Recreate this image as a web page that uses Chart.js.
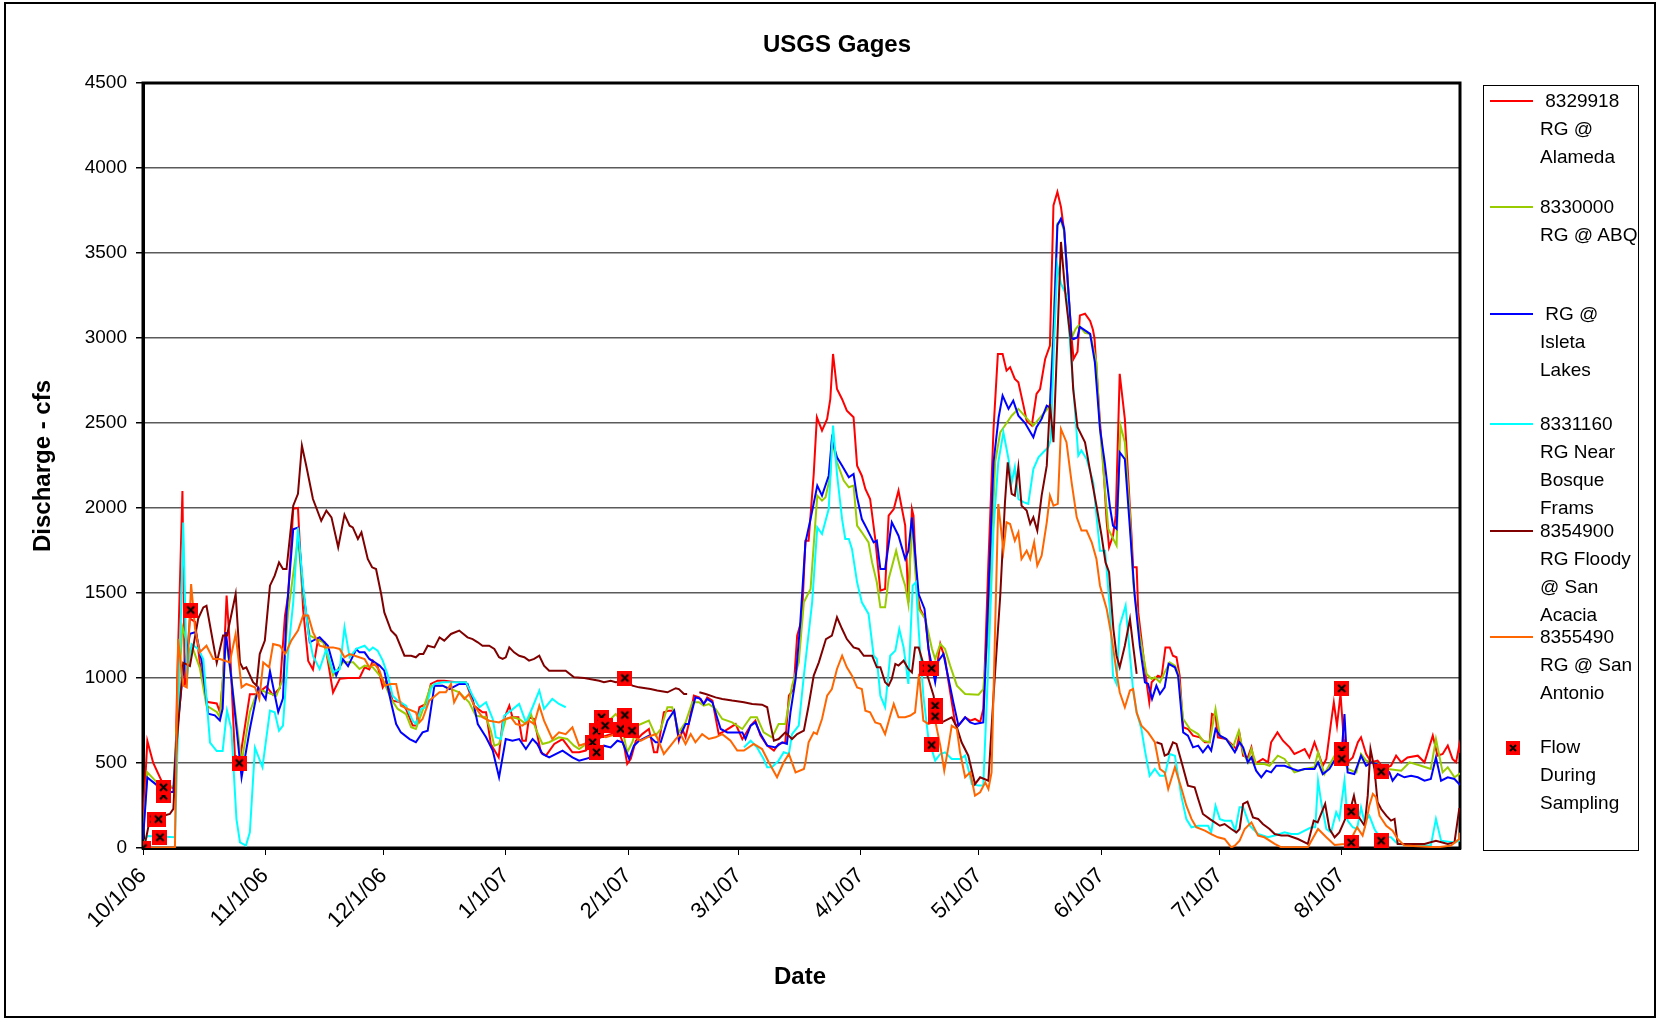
<!DOCTYPE html>
<html>
<head>
<meta charset="utf-8">
<script src="https://cdn.jsdelivr.net/npm/chart.js@4.4.0/dist/chart.umd.min.js"></script>
<style>
  body { margin: 0; background: #fff; }
  #wrap { position: relative; width: 1663px; height: 1019px; font-family: "Liberation Sans", Arial, sans-serif; color: #000; }
  #chart { position: absolute; left: 0; top: 0; }
  #frame { position: absolute; left: 4px; top: 2px; width: 1652px; height: 1016px; border: 2px solid #000; box-sizing: border-box; pointer-events: none; }
  .title { position: absolute; font-weight: bold; font-size: 24px; line-height: 28px; white-space: nowrap; }
  #legendBox { position: absolute; left: 1483px; top: 85px; width: 156px; height: 766px; border: 1px solid #000; box-sizing: border-box; }
  .lgLine { position: absolute; left: 1490px; width: 43px; height: 2px; }
  .lgText { position: absolute; left: 1540px; font-size: 19px; line-height: 28px; white-space: pre; }
</style>
</head>
<body>
<div id="wrap">
  <canvas id="chart" width="1663" height="1019"></canvas>
  <div class="title" style="left:637px;width:400px;text-align:center;top:30px;">USGS Gages</div>
  <div class="title" style="left:700px;width:200px;text-align:center;top:962px;">Date</div>
  <div class="title" style="left:-58px;width:200px;text-align:center;top:452px;transform:rotate(-90deg);">Discharge - cfs</div>
  <div id="legendBox"></div>
  <div id="legendItems"></div>
  <div id="frame"></div>
</div>
<script>
// month ticks (days since 10/1/06)
const monthTickDays = [0, 31, 61, 92, 123, 151, 182, 212, 243, 273, 304];
const monthTickLabels = ['10/1/06', '11/1/06', '12/1/06', '1/1/07', '2/1/07', '3/1/07', '4/1/07', '5/1/07', '6/1/07', '7/1/07', '8/1/07'];

// 8329918 RG @ Alameda
const alamedaDays = [0,1.1,2.6,5.2,8.1,8.7,10.0,10.6,11.9,13.2,14.4,16.1,18.7,19.5,20.3,21.2,22.0,23.3,24.6,27.1,28.8,31.3,33.0,34.7,36.0,36.8,38.1,39.3,40.6,41.9,43.1,44.4,46.1,48.2,49.9,52.0,54.9,
  56.2,57.4,58.3,59.5,60.8,61.7,63.3,65.4,66.7,68.4,69.2,70.1,71.8,73.0,74.7,76.4,79.4,81.9,84.0,86.1,87.0,88.2,90.2,91.2,92.9,93.7,95.2,96.2,97.1,97.9,99.2,100.9,102.2,104.3,106.4,108.9,110.6,
  112.3,114.0,116.1,118.6,120.7,122.0,122.8,123.7,125.0,126.6,128.3,129.6,130.4,132.1,133.4,134.7,135.9,136.8,137.6,138.4,139.7,141.0,142.2,143.1,144.4,146.0,147.7,150.3,152.0,154.1,155.3,156.6,158.3,160.0,161.2,162.9,163.8,165.0,165.9,167.1,
  168.0,168.8,170.1,170.9,172.2,173.5,174.3,175.0,176.0,177.3,178.5,180.2,181.1,182.3,183.2,184.4,185.7,187.0,188.2,189.1,190.4,191.6,192.0,193.3,194.1,195.0,195.4,196.3,197.1,198.4,199.6,200.9,202.2,203.4,204.3,206.0,206.8,208.5,209.8,211.0,212.3,213.1,214.4,215.7,216.8,218.0,219.0,219.9,221.1,222.0,
  223.3,224.1,225.4,226.6,227.5,228.8,230.0,230.9,231.9,232.8,233.7,235.5,236.0,237.0,237.6,238.9,240.2,240.9,241.3,242.7,243.5,244.4,245.0,246.0,246.7,247.7,249.0,249.8,250.7,251.1,252.0,252.4,253.2,254.5,255.2,255.8,257.4,258.3,259.3,260.4,261.2,262.1,262.9,263.8,265.0,266.3,268.0,269.3,270.5,271.1,272.0,272.6,274.7,276.0,277.3,278.1,279.0,
  280.2,281.1,281.9,284.0,285.3,286.1,287.7,289.1,290.8,292.0,293.3,294.6,295.8,297.1,298.0,299.2,300.1,301.3,302.0,302.8,303.7,304.5,305.5,306.8,308.1,308.9,310.2,311.5,313.1,314.8,316.5,317.8,319.1,320.7,323.3,325.0,327.1,328.3,329.6,330.9,332.1,333.0,333.8,334];
const alamedaCfs = [150,630,500,370,350,1000,2100,955,1350,1330,1090,860,850,800,1000,1485,1200,545,525,905,905,950,900,940,1365,1485,1995,2000,1405,1100,1050,1230,1210,915,995,1000,1000,
  1063,1050,1102,1070,945,985,867,857,818,720,720,828,848,965,984,984,975,975,837,798,798,612,533,740,837,769,769,631,631,769,759,563,543,612,641,563,563,
  573,622,651,670,680,602,494,524,631,670,700,563,563,798,808,808,631,700,651,729,896,886,847,886,867,670,690,729,640,720,749,661,602,573,612,622,896,935,1249,1347,
  1808,1808,2200,2534,2455,2524,2640,2906,2700,2640,2573,2534,2249,2190,2112,2053,1818,1514,1524,1955,1994,2102,2053,1896,1445,1994,1955,1504,1406,1347,1092,1004,1200,1112,975,729,720,769,749,759,740,818,1681,2465,2906,2906,2808,2828,2759,2739,
  2602,2514,2485,2671,2700,2877,2955,3780,3859,3771,3614,3000,2877,2920,3133,3143,3100,3050,3000,2504,2270,1916,1769,1837,1955,2789,2524,2200,1837,1651,1651,1386,1230,975,857,975,1014,1004,1180,1180,1131,1122,1014,710,700,661,651,622,622,788,779,651,641,612,582,670,543,
  533,592,494,524,504,622,680,631,592,553,567,582,533,622,563,484,524,739,857,720,906,643,504,533,622,651,553,504,514,465,484,543,504,533,543,504,661,543,553,602,524,504,602,560];

// 8330000 RG @ ABQ
const abqDays = [0,1.1,5.2,7.7,8.5,10.0,11.9,12.7,14.4,16.1,18.7,19.5,21.0,22.4,25.0,27.1,29.2,31.3,33.8,35.5,36.8,39.3,40.6,42.3,45.7,48.2,50.7,53.3,
  54.9,56.2,58.3,60.8,62.9,64.6,66.7,68.0,69.2,70.9,73.0,76.0,80.2,82.7,84.4,87.0,88.2,89.1,90.3,92.0,93.7,95.4,97.1,98.4,99.6,101.3,103.0,105.5,107.6,109.3,110.6,
  113.1,115.2,116.9,118.6,119.9,121.1,122.8,124.1,125.4,128.3,130.0,131.3,133.0,134.2,135.9,137.6,139.3,141.0,142.2,143.5,145.2,146.9,149.4,152.0,154.1,155.7,157.4,159.5,161.2,162.9,164.6,166.3,
  167.6,169.3,171.0,172.2,173.1,174.3,174.7,176.0,177.7,179.0,180.2,181.1,182.3,184.0,184.9,186.1,187.0,188.2,189.1,191.0,192.5,193.3,194.1,195.0,195.8,196.7,198.4,200.1,200.9,202.2,203.4,204.7,206.4,208.5,211.9,213.1,214.4,216.1,217.4,218.6,220.3,222.0,
  225.8,230.0,230.9,231.9,232.8,233.6,235.5,236.5,237.3,238.9,240.2,241.8,242.7,244.8,246.9,247.9,249.0,250.3,251.1,252.8,254.5,255.8,256.6,257.9,259.1,260.4,261.7,262.5,263.8,265.5,267.6,268.8,270.5,272.0,273.1,274.7,276.4,277.9,279.0,
  280.2,281.1,282.3,284.4,285.7,287.8,289.5,292.0,294.6,297.1,298.0,299.6,302.2,303.9,305.5,307.7,308.9,310.2,313.1,315.7,319.1,321.2,324.1,326.6,327.9,329.6,330.9,332.6,333.8,334];
const abqCfs = [60,445,345,365,700,1300,1150,1170,1060,837,800,770,1230,1000,500,800,935,916,895,994,1386,1820,1485,1249,1210,1014,1092,1092,
  1053,1073,1063,994,877,818,788,710,700,808,955,955,916,857,778,769,690,602,612,759,769,759,729,788,700,612,622,651,641,602,582,
  622,670,700,759,788,749,563,622,720,749,661,700,828,828,680,739,857,857,837,847,818,759,739,700,769,769,680,651,729,729,955,1092,
  1445,1524,2073,2043,2063,2190,2396,2269,2161,2122,2132,1896,1857,1798,1680,1563,1416,1416,1582,1749,1602,1543,1435,1945,1641,1406,1347,1171,1112,1200,1171,1073,955,906,902,935,1288,2269,2445,2485,2543,2583,
  2485,2600,3100,3673,3690,3630,3000,3053,3075,3030,3024,2857,2465,1877,1779,2485,2387,1955,1563,1249,1024,994,1004,975,1033,1092,1073,1033,759,700,670,631,622,818,661,641,592,690,563,
  504,582,494,494,484,543,524,445,465,475,563,435,543,553,465,445,553,514,494,465,455,504,484,465,641,445,475,416,435,440];

// RG @ Isleta Lakes
const isletaDays = [0,1.1,3.5,5.2,7.7,8.5,10.0,11.9,13.4,14.9,16.5,18.2,19.5,20.2,21.0,22.4,25.0,27.1,29.2,31.1,32.2,34.3,35.5,36.4,38.1,39.3,40.6,42.3,44.8,46.9,49.0,50.7,52.0,54.1,
  54.9,56.2,57.4,60.0,61.2,62.9,64.2,65.4,67.6,69.2,70.9,72.2,73.9,76.0,77.7,80.2,82.3,83.6,84.9,87.0,88.7,90.3,92.0,93.7,95.4,97.1,98.8,100.0,101.3,103.0,106.4,108.9,110.6,
  113.6,114.8,116.9,118.6,120.3,121.6,123.3,124.5,125.8,128.3,130.0,131.3,133.0,134.7,135.9,137.6,138.4,140.1,141.4,142.2,143.1,144.4,146.5,148.2,152.0,152.8,154.1,155.3,156.6,158.3,160.4,162.1,163.3,164.2,165.5,166.7,
  168.0,169.3,171.0,172.2,173.9,174.7,176.0,177.3,179.0,180.2,181.1,182.3,183.6,185.3,186.1,187.0,188.2,189.9,191.6,193.3,194.1,195.0,196.7,198.2,199.2,200.9,201.7,203.0,204.3,205.5,206.8,208.5,209.8,211.0,213.1,214.4,215.7,217.0,218.0,219.5,220.7,222.0,
  223.7,225.8,226.6,227.9,229.2,230.0,230.9,231.9,232.8,233.6,235.5,236.0,237.0,237.6,238.9,240.2,241.4,242.7,243.9,245.2,246.0,246.9,247.7,249.0,250.3,251.5,252.8,254.1,254.9,255.9,257.0,257.9,259.1,260.1,261.7,262.5,263.8,265.0,266.3,267.6,268.8,270.1,270.9,272.0,273.1,274.7,276.9,278.1,279.0,
  280.2,281.1,282.3,283.6,284.9,286.1,287.4,289.5,291.6,292.9,294.6,297.1,298.0,299.2,300.9,302.6,303.9,304.7,305.5,307.2,308.9,310.2,311.5,314.0,316.1,316.9,318.2,319.9,321.6,323.3,325.0,326.6,327.9,329.2,330.9,332.6,333.8,334];
const isletaCfs = [50,415,370,330,330,650,1000,1260,1270,1100,790,780,750,820,1270,1000,415,700,945,875,1040,800,880,1380,1875,1885,1520,1210,1240,1190,1015,1110,1070,1170,
  1151,1151,1112,1073,1043,857,729,680,641,622,680,690,955,955,935,965,965,877,729,651,573,416,641,631,641,582,641,612,553,533,573,533,514,
  533,563,602,592,631,622,524,602,631,661,622,622,749,808,641,729,729,886,877,847,877,857,700,680,680,641,720,739,670,602,592,622,612,798,994,1328,
  1798,1935,2132,2073,2190,2406,2298,2249,2181,2200,2063,1935,1877,1798,1808,1641,1641,1916,1837,1700,1749,1945,1494,1406,1171,975,1100,1141,994,857,720,769,739,729,739,1486,2269,2534,2661,2583,2632,2543,
  2500,2416,2475,2524,2602,2592,3000,3663,3702,3643,3000,2994,3004,3065,3045,3024,2857,2465,2269,2010,1896,1877,2328,2288,1877,1484,1190,975,965,877,955,906,945,1083,1063,1014,680,661,592,602,563,602,573,700,661,641,563,622,592,
  504,533,455,416,455,445,484,484,465,455,465,465,504,435,465,533,533,788,445,435,543,484,504,484,445,396,435,416,425,416,396,406,533,396,416,406,376,370];

// 8331160 RG Near Bosque Frams
const bosqueDays = [0,1.1,8.1,8.9,10.2,11.1,12.3,14.0,15.3,17.0,18.7,20.2,21.3,22.4,23.7,24.6,26.1,27.1,28.4,30.3,32.2,33.4,34.5,35.5,36.8,38.1,39.3,40.6,41.9,43.1,44.8,46.5,48.2,49.9,51.1,52.4,54.1,
  56.2,57.4,58.3,59.5,60.8,62.1,63.3,64.6,66.7,68.4,69.2,70.5,71.8,73.0,73.9,76.0,81.9,83.6,85.3,87.0,88.7,89.5,90.8,91.6,93.3,95.4,97.1,98.8,100.5,101.7,103.8,105.5,107.2,130,
  152.4,154.1,155.7,157.4,158.3,159.5,161.2,162.5,163.8,164.6,166.3,167.6,
  169.7,171.0,172.2,173.9,175.0,176.0,177.3,178.1,179.0,179.8,181.1,182.3,184.0,185.3,186.1,187.0,188.2,189.5,190.8,191.8,192.9,194.1,195.2,196.0,196.7,197.9,199.2,200.9,202.2,203.4,205.1,207.2,208.5,210.2,211.9,213.1,214.4,215.7,216.9,218.2,219.5,220.3,221.1,222.0,
  223.3,224.5,225.8,227.1,228.3,229.6,230.2,231.1,231.9,232.8,234.2,235.0,237.2,238.0,239.3,241.0,241.8,242.7,244.0,245.2,246.0,246.9,247.7,249.2,250.3,251.1,252.0,253.2,254.1,255.3,256.6,257.9,259.1,260.4,261.7,263.3,264.6,265.9,267.6,270.1,270.9,272.0,273.1,274.3,276.0,277.0,278.1,
  279.0,280.7,282.8,285.3,287.0,289.5,291.2,292.9,294.6,296.3,297.3,298.0,298.8,300.1,301.3,302.6,303.4,304.7,305.5,306.8,307.9,308.9,309.8,311.0,312.3,313.6,316.5,318.2,324.1,326.6,327.9,329.2,332.6,333.8,334];
const bosqueCfs = [20,70,63,700,1915,1000,1200,1171,1110,620,570,570,808,700,170,33,14,92,590,475,808,798,690,720,1150,1445,1885,1543,1270,1130,1053,1171,1033,1053,1298,1122,1171,
  1190,1161,1180,1161,1102,1014,896,867,837,749,729,818,828,935,965,975,975,896,828,857,759,651,641,778,808,847,739,828,926,818,877,847,828,null,
  592,631,592,524,475,475,514,563,553,670,720,1014,
  1445,1886,1847,1994,2485,2200,1933,1818,1818,1759,1563,1445,1377,1131,1112,896,828,1131,1161,1288,1180,965,1543,1563,1288,896,641,514,553,563,524,524,543,376,367,367,1092,1877,2269,2445,2288,2151,2240,2053,
  2034,2024,2229,2298,2328,2357,2400,3000,3427,3320,3251,3000,2308,2338,2288,2151,1955,1749,1749,1406,1014,965,1308,1426,1131,926,798,700,573,425,465,425,425,553,543,308,170,122,131,131,92,249,170,161,161,102,239,
  239,131,82,63,73,92,82,82,102,122,122,396,269,112,92,210,171,396,161,122,112,239,151,190,112,63,63,24,14,14,171,43,33,43,50];

// 8354900 RG Floody @ San Acacia
const acaciaDays = [0,0.5,1.4,2.6,5.2,6.8,7.7,8.5,10.2,11.9,14.0,15.3,16.1,18.7,20.3,21.3,23.5,24.6,25.4,26.2,27.9,28.8,29.6,30.9,32.2,33.4,34.5,35.5,36.4,38.1,39.3,40.3,41.4,43.1,45.2,46.5,47.8,49.5,51.1,52.4,53.2,54.5,55.4,
  57.0,58.1,59.1,60.4,61.2,62.9,64.2,66.3,68.0,69.2,70.1,71.1,72.2,73.9,75.2,76.4,78.1,80.2,82.3,83.6,84.9,86.1,87.8,89.1,90.3,91.2,92.0,92.9,94.1,95.4,96.7,97.9,99.2,100.5,101.7,103.0,107.2,109.3,111.9,
  115.7,116.9,118.6,119.9,122.4,124.1,125.8,128.7,130.4,133.0,135.1,135.9,137.2,138.0,139.5,141.1,142.7,145.2,146.9,149.4,152.4,154.5,157.0,158.3,159.1,160.0,161.2,162.9,164.6,165.9,167.6,
  168.8,170.1,171.4,173.2,174.7,176.0,177.3,178.5,180.2,181.5,182.8,184.9,186.1,187.0,188.2,189.1,189.9,190.8,191.6,192.9,194.1,195.0,195.8,196.7,197.9,199.2,200.5,201.3,202.6,205.1,206.4,207.6,209.3,211.0,212.3,214.4,215.7,217.4,218.6,219.3,220.3,221.1,222.0,
  222.8,224.1,225.0,225.8,226.8,227.9,229.2,230.0,230.9,231.9,232.8,234.0,235.2,235.9,237.0,238.9,240.1,241.8,243.1,244.1,245.0,246.1,246.9,247.7,249.0,250.3,251.1,252.0,254.5,257.0,258.3,259.1,260.0,261.2,262.1,263.4,265.0,266.7,267.6,268.8,270.5,271.8,273.1,274.3,276.0,277.3,278.1,
  279.0,280.1,281.5,282.8,284.0,285.7,287.0,288.7,290.4,292.9,295.4,296.9,297.9,299.8,300.9,302.2,303.4,304.9,306.0,307.1,308.1,309.8,310.6,311.3,312.3,313.1,314.0,315.3,316.5,317.4,318.2,325.0,327.9,330.9,332.6,333.8,334];
const acaciaCfs = [0,24,130,170,190,200,230,600,1090,1070,1350,1415,1425,1090,1250,1250,1494,1090,1053,1063,975,955,1141,1220,1543,1602,1680,1641,1641,2014,2083,2367,2249,2053,1925,1985,1945,1769,1961,1896,1886,1818,1857,
  1700,1651,1641,1494,1386,1279,1249,1131,1131,1122,1141,1141,1190,1180,1239,1220,1259,1279,1239,1229,1210,1190,1190,1171,1122,1112,1122,1180,1151,1131,1122,1102,1112,1131,1073,1043,1043,1004,1000,
  984,975,984,975,984,955,945,935,926,916,940,935,906,906,null,916,906,886,877,867,857,847,843,828,729,631,641,680,641,670,690,
  837,1014,1092,1229,1249,1357,1288,1229,1180,1171,1131,1131,1063,1063,975,955,994,1083,1073,1102,1053,1033,1180,1180,1083,994,896,769,739,769,710,622,543,376,416,396,896,1484,2033,2269,2083,2073,2240,
  2014,1985,1906,1945,1867,2073,2249,2612,2387,3000,3565,3240,3000,2700,2475,2387,2230,2014,1837,1680,1622,1288,1131,1063,1190,1347,1190,1024,null,622,612,543,553,622,612,504,367,357,288,200,171,151,131,141,112,92,112,
  259,273,180,171,141,112,82,73,73,53,24,161,151,259,112,63,92,171,210,308,190,131,308,582,465,269,229,190,161,171,24,24,43,24,33,229,229];

// 8355490 RG @ San Antonio
const antonioDays = [0,8.1,8.9,10.2,11.1,12.2,13.2,14.4,16.1,17.8,19.5,22.0,23.5,25.0,26.2,28.4,29.5,30.5,32.0,33.0,34.7,36.1,37.6,39.3,40.6,41.9,43.1,44.8,46.5,48.2,49.9,51.1,52.4,53.7,56.2,
  57.4,58.7,60.0,61.2,62.9,64.2,65.4,67.1,69.2,70.1,70.9,72.6,75.2,76.8,78.1,78.9,80.2,81.5,82.7,84.0,86.1,87.8,90.3,92.0,93.3,94.6,96.2,97.9,99.2,100.5,101.7,103.8,105.5,107.2,108.9,110.6,
  113.1,115.7,117.4,119.9,121.6,123.3,124.9,126.2,127.9,130.0,132.1,133.8,135.1,136.3,137.6,138.9,140.1,141.8,143.5,145.2,146.9,149.0,150.7,152.4,154.9,157.0,158.7,160.8,162.5,163.8,165.5,167.6,
  168.0,168.8,170.1,170.9,172.2,173.5,174.7,176.0,177.3,178.5,179.8,181.1,182.3,183.2,184.4,185.7,187.0,188.2,189.5,190.4,191.6,193.3,194.6,195.8,196.8,197.9,199.2,200.9,202.2,203.2,204.3,205.1,206.4,207.2,208.5,209.8,211.0,212.3,213.6,214.4,215.2,216.1,216.9,218.2,219.0,219.9,221.1,222.0,222.8,
  224.1,225.0,226.0,226.8,227.9,229.2,230.0,230.9,232.0,232.8,234.2,235.5,236.8,238.0,239.3,240.6,241.8,242.7,244.4,245.6,246.9,247.7,249.0,250.3,251.1,252.0,253.2,254.9,256.6,257.9,259.1,260.0,261.7,263.4,264.6,265.9,267.1,269.3,270.9,272.6,274.3,276.0,276.9,278.1,
  279.4,281.1,282.8,284.4,287.0,288.7,295.4,298.0,300.1,302.2,304.7,306.4,307.9,309.3,310.2,311.0,311.9,312.7,313.6,315.3,316.9,318.2,319.9,328.3,331.7,333.8,334];
const antonioCfs = [0,4,1230,955,945,1553,1290,1151,1190,1112,1112,1092,1259,945,965,945,877,1092,1063,1200,1190,1141,1220,1279,1367,1367,1270,1190,1180,1180,1171,1122,1141,1131,1112,
  1063,1083,1043,955,965,965,837,818,798,739,759,867,916,916,965,857,916,877,906,837,769,749,739,759,769,729,720,749,729,837,749,641,680,670,710,602,
  622,661,651,670,680,661,651,631,651,670,553,602,641,670,612,670,622,670,641,651,670,631,573,573,612,582,504,416,504,553,445,465,
  504,622,680,670,759,896,935,1053,1131,1063,1014,945,935,808,798,739,729,670,778,847,769,769,779,798,1024,749,729,749,602,455,602,720,700,563,416,445,308,328,386,347,445,1290,2024,1749,1916,1906,1808,1857,1700,
  1749,1700,1798,1661,1720,1916,2073,2014,2024,2465,2387,2151,1945,1867,1867,1798,1700,1543,1406,1249,1033,916,828,926,935,796,720,680,622,465,445,347,475,347,249,171,122,102,82,63,53,4,14,43,
  112,151,73,63,24,4,4,112,63,18,24,53,122,73,151,249,318,298,190,131,102,53,14,4,14,53,90];

// Flow during sampling
const samplingDays = [0,2.8,3.9,4.3,5.2,5.2,12.1,24.4,114,115,115,116.3,117.2,121.1,122.2,124,122.2,198.8,200,200.9,200.9,200,304,304,304,306.4,306.4,314,314];
const samplingCfs = [0,170,170,63,307,357,1400,500,622,563,690,769,720,700,782,690,1000,1057,1057,837,775,606,939,578,524,214,33,449,43];

const FONT = '"Liberation Sans", Arial, sans-serif';
const MARK = 15;

function pts(days, vals) {
  return days.map((d, i) => ({ x: d, y: vals[i] }));
}

function drawMarker(c, s) {
  c.fillStyle = '#ff0000';
  c.fillRect(0, 0, s, s);
  c.strokeStyle = '#000';
  c.lineWidth = 2;
  c.beginPath();
  c.moveTo(4, 4); c.lineTo(s - 4, s - 4);
  c.moveTo(s - 4, 4); c.lineTo(4, s - 4);
  c.stroke();
}

const marker = document.createElement('canvas');
marker.width = MARK; marker.height = MARK;
drawMarker(marker.getContext('2d'), MARK);

const series = [
  { label: '8329918 RG @ Alameda', color: '#ff0000', days: alamedaDays, vals: alamedaCfs, text: ' 8329918\nRG @\nAlameda', y: 101 },
  { label: '8330000 RG @ ABQ', color: '#99cc00', days: abqDays, vals: abqCfs, text: '8330000\nRG @ ABQ', y: 207 },
  { label: 'RG @ Isleta Lakes', color: '#0000ff', days: isletaDays, vals: isletaCfs, text: ' RG @\nIsleta\nLakes', y: 314 },
  { label: '8331160 RG Near Bosque Frams', color: '#00ffff', days: bosqueDays, vals: bosqueCfs, text: '8331160\nRG Near\nBosque\nFrams', y: 424 },
  { label: '8354900 RG Floody @ San Acacia', color: '#800000', days: acaciaDays, vals: acaciaCfs, text: '8354900\nRG Floody\n@ San\nAcacia', y: 531 },
  { label: '8355490 RG @ San Antonio', color: '#ff6600', days: antonioDays, vals: antonioCfs, text: '8355490\nRG @ San\nAntonio', y: 637 }
];

const datasets = series.map((s, i) => ({
  label: s.label,
  data: pts(s.days, s.vals),
  borderColor: s.color,
  backgroundColor: s.color,
  borderWidth: 2,
  pointRadius: 0,
  tension: 0,
  fill: false,
  order: series.length - i
}));

datasets.push({
  label: 'Flow During Sampling',
  data: pts(samplingDays, samplingCfs),
  showLine: false,
  pointStyle: marker,
  pointRadius: 8,
  order: 0
});

// legend as html text
const lg = document.getElementById('legendItems');
series.forEach(s => {
  const ln = document.createElement('div');
  ln.className = 'lgLine';
  ln.style.top = (s.y - 1) + 'px';
  ln.style.background = s.color;
  lg.appendChild(ln);
  const tx = document.createElement('div');
  tx.className = 'lgText';
  tx.style.top = (s.y - 14) + 'px';
  tx.textContent = s.text;
  lg.appendChild(tx);
});
const lm = document.createElement('canvas');
lm.width = 14; lm.height = 14;
lm.style.position = 'absolute'; lm.style.left = '1506px'; lm.style.top = '741px';
drawMarker(lm.getContext('2d'), 14);
lg.appendChild(lm);
const ft = document.createElement('div');
ft.className = 'lgText';
ft.style.top = (747 - 14) + 'px';
ft.textContent = 'Flow\nDuring\nSampling';
lg.appendChild(ft);

const plotBox = {
  id: 'plotBox',
  beforeDatasetsDraw(chart) {
    const a = chart.chartArea, c = chart.ctx;
    c.save();
    c.strokeStyle = '#000';
    c.lineWidth = 3;
    c.strokeRect(a.left, a.top, a.right - a.left, a.bottom - a.top);
    c.restore();
  }
};

new Chart(document.getElementById('chart'), {
  type: 'line',
  data: { datasets: datasets },
  options: {
    responsive: false,
    animation: false,
    devicePixelRatio: 1,
    layout: { padding: { left: 0, top: 83, right: 203, bottom: 0 } },
    plugins: { legend: { display: false }, title: { display: false }, tooltip: { enabled: false } },
    scales: {
      x: {
        type: 'linear',
        min: 0,
        max: 334,
        afterFit(s) { s.height = 171; },
        afterBuildTicks(s) { s.ticks = monthTickDays.map(v => ({ value: v })); },
        ticks: {
          autoSkip: false,
          minRotation: 45,
          maxRotation: 45,
          padding: 8,
          color: '#000',
          font: { family: FONT, size: 22 },
          callback: (v, i) => monthTickLabels[i]
        },
        grid: { drawOnChartArea: false, drawTicks: true, tickLength: 7, color: '#000', lineWidth: 1 },
        border: { display: true, color: '#000', width: 3 }
      },
      y: {
        min: 0,
        max: 4500,
        afterFit(s) { s.width = 143; },
        ticks: { stepSize: 500, padding: 9, color: '#000', font: { family: FONT, size: 19 }, callback: v => String(v) },
        grid: { color: '#5a5a5a', lineWidth: 1.5, tickLength: 7, tickColor: '#000' },
        border: { display: true, color: '#000', width: 3 }
      }
    }
  },
  plugins: [plotBox]
});
</script>
</body>
</html>
